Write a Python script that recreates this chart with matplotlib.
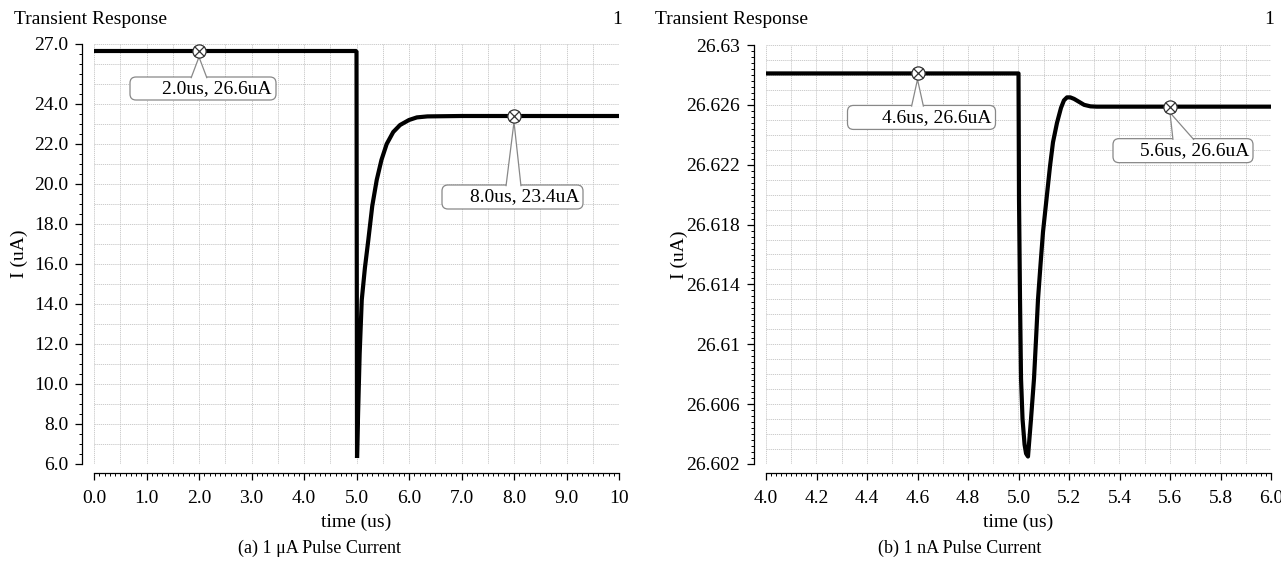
import numpy as np
import matplotlib.pyplot as plt
import matplotlib.transforms as mtransforms
from matplotlib.patches import FancyBboxPatch, Polygon
from matplotlib.ticker import MultipleLocator, FixedLocator, FixedFormatter

plt.rcParams['font.family'] = ['Liberation Serif', 'DejaVu Serif']

# ---- data ----
# (a) 1 uA pulse, time in us, current in uA
t_a = [0.0, 5.0, 5.01, 5.03, 5.06, 5.10, 5.16, 5.225, 5.30, 5.385, 5.475,
       5.575, 5.70, 5.83, 6.0, 6.15, 6.35, 7.0, 10.0]
i_a = [26.65, 26.65, 6.3, 8.5, 11.5, 14.2, 15.8, 17.2, 18.9, 20.2, 21.2,
       22.0, 22.6, 22.95, 23.2, 23.33, 23.38, 23.4, 23.4]

# (b) 1 nA pulse
t_b = [4.0, 5.0, 5.002, 5.006, 5.010, 5.016, 5.024, 5.030, 5.0376, 5.0495,
       5.0614, 5.0693, 5.0772, 5.0871, 5.097, 5.1109, 5.1248, 5.1366, 5.1525,
       5.1683, 5.18, 5.192, 5.205, 5.22, 5.24, 5.26, 5.285, 5.31, 6.0]
i_b = [26.6281, 26.6281, 26.6197, 26.6130, 26.6077, 26.6050, 26.6033, 26.6027,
       26.6025, 26.6050, 26.6077, 26.6103, 26.6130, 26.6153, 26.6175, 26.6197,
       26.6219, 26.6235, 26.6248, 26.6258, 26.6263, 26.6265, 26.6265, 26.6264,
       26.6262, 26.6260, 26.6259, 26.62588, 26.62588]

# markers
mark_t_a = [2.0, 8.0]
mark_lbl_a = ['2.0us, 26.6uA', '8.0us, 23.4uA']
mark_t_b = [4.6, 5.6]
mark_lbl_b = ['4.6us, 26.6uA', '5.6us, 26.6uA']

# tick labels
yticks_a = [6.0, 8.0, 10.0, 12.0, 14.0, 16.0, 18.0, 20.0, 22.0, 24.0, 27.0]
ylbl_a = ['6.0', '8.0', '10.0', '12.0', '14.0', '16.0', '18.0', '20.0',
          '22.0', '24.0', '27.0']
xticks_a = [0, 1, 2, 3, 4, 5, 6, 7, 8, 9, 10]
xlbl_a = ['0.0', '1.0', '2.0', '3.0', '4.0', '5.0', '6.0', '7.0', '8.0',
          '9.0', '10']
yticks_b = [26.602, 26.606, 26.61, 26.614, 26.618, 26.622, 26.626, 26.63]
ylbl_b = ['26.602', '26.606', '26.61', '26.614', '26.618', '26.622',
          '26.626', '26.63']
xticks_b = [4.0, 4.2, 4.4, 4.6, 4.8, 5.0, 5.2, 5.4, 5.6, 5.8, 6.0]
xlbl_b = ['4.0', '4.2', '4.4', '4.6', '4.8', '5.0', '5.2', '5.4', '5.6',
          '5.8', '6.0']

# bubble layout in pixels relative to marker: left, right, top, bottom, leg1, leg2
bub_a = [(-69, 77, 26, 49, -8, 8), (-72, 69, 69, 93, -8, 7)]
bub_b = [(-70, 78, 32, 56, -6, 6), (-57, 83, 32, 56, 3, 24)]

W, H = 1281, 569
FS = 14
grid_c = '#c4c4c4'
fig = plt.figure(figsize=(W / 100, H / 100), dpi=100)


def px_axes(l, t, r, b):
    return fig.add_axes([l / W, 1 - b / H, (r - l) / W, (b - t) / H])


def style(ax, xt, xl, yt, yl, xminor, yminor, gx, gy):
    ax.set_facecolor('white')
    for s in ['top', 'right']:
        ax.spines[s].set_visible(False)
    ax.spines['left'].set_position(('outward', 8.6))
    ax.spines['bottom'].set_position(('outward', 6.5))
    for s in ['left', 'bottom']:
        ax.spines[s].set_linewidth(0.9)
    ax.xaxis.set_major_locator(FixedLocator(xt))
    ax.xaxis.set_major_formatter(FixedFormatter(xl))
    ax.yaxis.set_major_locator(FixedLocator(yt))
    ax.yaxis.set_major_formatter(FixedFormatter(yl))
    ax.xaxis.set_minor_locator(MultipleLocator(xminor))
    ax.yaxis.set_minor_locator(MultipleLocator(yminor))
    ax.tick_params(which='major', direction='out', length=5, width=0.9,
                   labelsize=FS)
    ax.tick_params(which='minor', direction='out', length=2.5, width=0.7)
    ax.tick_params(axis='x', which='major', pad=7)
    ax.tick_params(axis='y', which='major', pad=5)
    for g in gx:
        ax.axvline(g, color=grid_c, lw=0.6, ls=(0, (1.5, 1)), zorder=0)
    for g in gy:
        ax.axhline(g, color=grid_c, lw=0.6, ls=(0, (1.5, 1)), zorder=0)
    ax.set_xlabel('time (us)', fontsize=FS)
    ax.set_ylabel('I (uA)', fontsize=FS)


def bubble(ax, x, y, text, geo):
    l, r, top, bot, g1, g2 = geo
    tr = mtransforms.ScaledTranslation(x, y, ax.transData)
    box = FancyBboxPatch((l, -bot), r - l, bot - top,
                         boxstyle='round,pad=0,rounding_size=6',
                         fc='white', ec='#888888', lw=0.9,
                         transform=tr, zorder=5, clip_on=False)
    ax.add_patch(box)
    leg = Polygon([(g1, -top - 1.2), (0, -6), (g2, -top - 1.2)], closed=False,
                  fc='white', ec='#888888', lw=0.9, transform=tr,
                  zorder=6, clip_on=False)
    ax.add_patch(leg)
    ax.text(r - 4, -(top + bot) / 2, text, transform=tr, ha='right',
            va='center', fontsize=FS, zorder=7, clip_on=False)
    ax.plot([x], [y], marker='o', ms=9.5, mfc='white', mec='#333333', mew=0.9,
            zorder=8, clip_on=False)
    ax.plot([x], [y], marker='x', ms=6.5, mec='#333333', mew=0.9,
            zorder=9, clip_on=False)


# (a)
ax_a = px_axes(94, 44, 619, 464)
ax_a.plot(t_a, i_a, color='black', lw=3, solid_joinstyle='bevel', zorder=3)
ax_a.set_xlim(0, 10)
ax_a.set_ylim(6, 27)
style(ax_a, xticks_a, xlbl_a, yticks_a, ylbl_a, 0.1, 0.5,
      np.arange(0, 10.01, 0.5), np.arange(6, 27.01, 1.0))
ax_a.xaxis.set_label_coords(0.5, -0.118)
ax_a.yaxis.set_label_coords(-0.125, 0.5)
for tm, lb, geo in zip(mark_t_a, mark_lbl_a, bub_a):
    bubble(ax_a, tm, np.interp(tm, t_a, i_a), lb, geo)

# (b)
ax_b = px_axes(766, 45, 1271, 464)
ax_b.plot(t_b, i_b, color='black', lw=3, solid_joinstyle='round', zorder=3)
ax_b.set_xlim(4.0, 6.0)
ax_b.set_ylim(26.602, 26.63)
style(ax_b, xticks_b, xlbl_b, yticks_b, ylbl_b, 0.02, 0.0004,
      np.arange(4.0, 6.001, 0.1), np.arange(26.602, 26.6301, 0.001))
ax_b.xaxis.set_label_coords(0.5, -0.118)
ax_b.yaxis.set_label_coords(-0.155, 0.5)
for tm, lb, geo in zip(mark_t_b, mark_lbl_b, bub_b):
    bubble(ax_b, tm, np.interp(tm, t_b, i_b), lb, geo)

# headers and captions
for x0, x1 in [(14, 622), (655, 1274)]:
    fig.text(x0 / W, 1 - 20 / H, 'Transient Response', fontsize=FS,
             ha='left', va='center')
    fig.text(x1 / W, 1 - 20 / H, '1', fontsize=FS, ha='right', va='center')
fig.text(320 / W, 1 - 548 / H, '(a) 1 μA Pulse Current', fontsize=13,
         ha='center', va='center')
fig.text(960 / W, 1 - 548 / H, '(b) 1 nA Pulse Current', fontsize=13,
         ha='center', va='center')

fig.savefig('out.png', dpi=100, facecolor='white')
